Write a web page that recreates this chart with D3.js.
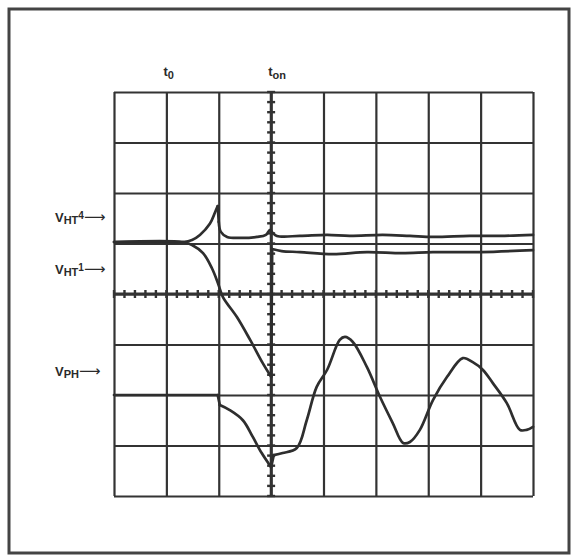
<!DOCTYPE html>
<html><head><meta charset="utf-8">
<script src="https://cdn.jsdelivr.net/npm/d3@7"></script>
<style>
html,body{margin:0;padding:0;background:#fff;}
svg{display:block;}
text{font-family:"Liberation Sans",Arial,sans-serif;fill:#2a2a2a;font-weight:bold;}
</style></head>
<body>
<svg id="c" width="573" height="555"></svg>
<script>
// Oscilloscope screen: x in divisions (0..8), y in divisions (-4..4)
const xDivs = [0,1,2,3,4,5,6,7,8];
const yDivs = [-4,-3,-2,-1,0,1,2,3,4];
const timeMarkers = [
  {label:"t", sub:"0", x:1},
  {label:"t", sub:"on", x:3}
];
const traceLabels = [
  {main:"V", sub:"HT", sup:"4", y:1.5},
  {main:"V", sub:"HT", sup:"1", y:0.48},
  {main:"V", sub:"PH", sup:"", y:-1.55}
];
const vHT4 = [[0,1.03],[0.69,1.03],[1.32,1.03],[1.49,1.07],[1.64,1.17],[1.83,1.39],[1.93,1.62],[1.98,1.74],[2.0,1.43],[2.04,1.23],[2.16,1.13],[2.4,1.11],[2.73,1.13],[2.9,1.17],[2.98,1.27],[3.03,1.21],[3.11,1.15],[3.55,1.15],[4.07,1.17],[4.5,1.15],[5.13,1.17],[5.65,1.15],[6.09,1.13],[6.79,1.15],[7.37,1.15],[8,1.17]];
const vHT1 = [[0,1.03],[1.32,1.03],[1.49,0.97],[1.7,0.81],[1.87,0.51],[1.99,0.2],[2.08,-0.06],[2.35,-0.46],[2.6,-0.91],[2.84,-1.37],[3.0,-1.64],[3.02,0.89],[3.2,0.85],[3.55,0.83],[4.18,0.79],[4.83,0.83],[5.5,0.81],[6.09,0.83],[7.0,0.83],[8,0.87]];
const vPH = [[0,-2],[1.98,-2],[2.02,-2.2],[2.21,-2.3],[2.46,-2.5],[2.65,-2.83],[2.82,-3.15],[3.0,-3.43],[3.05,-3.19],[3.22,-3.15],[3.49,-3.05],[3.68,-2.5],[3.87,-1.84],[4.07,-1.5],[4.31,-0.91],[4.41,-0.85],[4.56,-0.95],[4.83,-1.45],[5.08,-2.04],[5.32,-2.55],[5.52,-2.95],[5.65,-2.93],[5.84,-2.69],[6.09,-2.1],[6.36,-1.64],[6.66,-1.27],[6.85,-1.35],[7.04,-1.5],[7.23,-1.76],[7.5,-2.16],[7.75,-2.69],[7.88,-2.69],[8,-2.63]];

const svg = d3.select("#c");
const L=114, R=533, T=92, B=496;
const x = d3.scaleLinear().domain([0,8]).range([L,R]);
const y = d3.scaleLinear().domain([-4,4]).range([B,T]);

// outer frame
svg.append("rect").attr("x",9).attr("y",9).attr("width",560).attr("height",544)
  .attr("fill","none").attr("stroke","#444").attr("stroke-width",3);

const gridColor="#333";
const gx = svg.append("g").attr("transform",`translate(0,${B})`)
  .call(d3.axisBottom(x).tickValues(xDivs).tickSize(-(B-T)).tickFormat(""));
const gy = svg.append("g").attr("transform",`translate(${L},0)`)
  .call(d3.axisLeft(y).tickValues(yDivs).tickSize(-(R-L)).tickFormat(""));
[gx,gy].forEach(g=>{
  g.select(".domain").remove();
  g.selectAll(".tick line").attr("stroke",gridColor).attr("stroke-width",2.2);
});

// center axes minor ticks (5 per division)
const minorX = d3.range(0,8.001,0.2);
const minorY = d3.range(-4,4.001,0.2);
svg.append("g").selectAll("line").data(minorX).join("line")
  .attr("x1",d=>x(d)).attr("x2",d=>x(d)).attr("y1",y(0)-4).attr("y2",y(0)+4)
  .attr("stroke",gridColor).attr("stroke-width",2.4);
svg.append("g").selectAll("line").data(minorY).join("line")
  .attr("x1",x(3)-4).attr("x2",x(3)+4).attr("y1",d=>y(d)).attr("y2",d=>y(d))
  .attr("stroke",gridColor).attr("stroke-width",2.4);
svg.append("line").attr("x1",L).attr("x2",R).attr("y1",y(0)).attr("y2",y(0)).attr("stroke",gridColor).attr("stroke-width",2.8);
svg.append("line").attr("x1",x(3)).attr("x2",x(3)).attr("y1",T).attr("y2",B).attr("stroke",gridColor).attr("stroke-width",2.8);

// traces: split at vertical jumps, smooth each piece
function pieces(s){
  const out=[[s[0]]];
  for(let i=1;i<s.length;i++){
    const p=s[i-1], q=s[i];
    if(q[0]-p[0]<0.06 && Math.abs(q[1]-p[1])>0.2){ out.push([p,q]); out.push([q]); }
    else out[out.length-1].push(q);
  }
  return out.filter(a=>a.length>1);
}
const line = d3.line().x(d=>x(d[0])).y(d=>y(d[1])).curve(d3.curveCatmullRom.alpha(0.5));
[vHT4,vHT1,vPH].forEach(s=>{
  svg.append("g").selectAll("path").data(pieces(s)).join("path")
    .attr("d",line).attr("fill","none")
    .attr("stroke","#2e2e2e").attr("stroke-width",2.7)
    .attr("stroke-linejoin","round").attr("stroke-linecap","round");
});

// time markers
timeMarkers.forEach(m=>{
  const t = svg.append("text").attr("x",x(m.x)-3).attr("y",T-16).attr("font-size",13);
  t.append("tspan").text(m.label);
  t.append("tspan").attr("dy",3).attr("font-size",11).text(m.sub);
});

// trace labels
traceLabels.forEach(l=>{
  const t = svg.append("text").attr("x",55).attr("y",y(l.y)+4).attr("font-size",13);
  t.append("tspan").text(l.main);
  t.append("tspan").attr("dy",2).attr("font-size",11).text(l.sub);
  if(l.sup) t.append("tspan").attr("dy",-5).attr("font-size",10).text(l.sup);
  t.append("tspan").attr("dy",l.sup?3:-2).attr("font-size",15).attr("font-weight","normal")
    .style("font-family","'DejaVu Sans'").text("\u27F6");
});
</script>
</body></html>
